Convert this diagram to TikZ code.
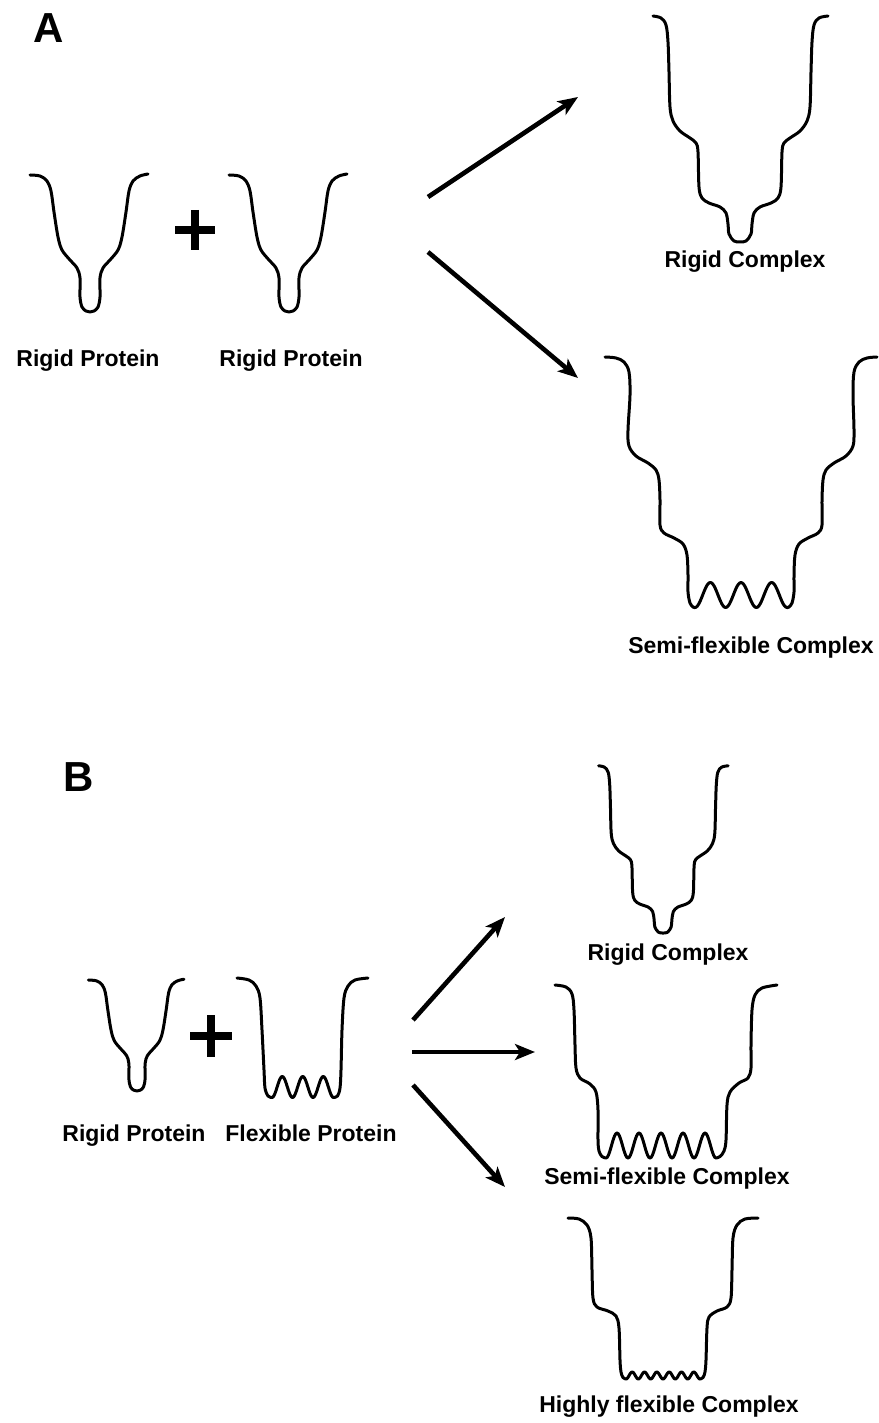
\documentclass[tikz,border=0pt]{standalone}
\usepackage{fontspec}
\setmainfont{Liberation Sans}
\usetikzlibrary{arrows.meta}
\newcommand\rigidprotein{\draw[prot] plot[smooth,tension=0.55] coordinates {(-60,-137) (-50,-136) (-43,-131) (-39,-121) (-36,-100) (-32,-75) (-28,-62) (-20,-52) (-13,-44) (-10,-34) (-10,-15) (-8,-5) (-4,-1) (0,0) (4,-1) (8,-5) (10,-15) (10,-34) (13,-44) (20,-52) (28,-62) (32,-75) (36,-100) (39,-121) (43,-131) (50,-136) (58,-138)};}
\newcommand\rigidcomplex{\draw[prot] plot[smooth,tension=0.55] coordinates {(-87,-226) (-79,-224) (-74,-217) (-72,-200) (-71,-170) (-70,-135) (-67,-121) (-60,-111) (-50,-104) (-44,-99) (-42,-90) (-41,-55) (-38,-44) (-31,-39) (-20,-35) (-14,-29) (-12,-18) (-11,-8) (-6,-1) (0,0) (6,-1) (11,-8) (12,-18) (14,-29) (20,-35) (31,-39) (38,-44) (41,-55) (42,-90) (44,-99) (50,-104) (60,-111) (67,-121) (70,-135) (71,-170) (72,-200) (74,-217) (79,-224) (88,-226)};}
\begin{document}
\begin{tikzpicture}[x=0.5pt,y=-0.5pt,
  prot/.style={line width=1.5pt,line cap=round,line join=round},
  arr/.style={line width=2.3pt,-{Stealth[length=10pt,width=8pt,inset=2.5pt]}},
  lbl/.style={font=\bfseries\fontsize{11.5}{13}\selectfont,anchor=base,inner sep=0pt},
  panel/.style={font=\bfseries\fontsize{21}{24}\selectfont,inner sep=0pt},
  plussign/.style={line width=4pt}]
\useasboundingbox (0,0) rectangle (878,1423);

\node[panel] (pA) at (49,28) {A};
\node[panel] (pB) at (79,777) {B};

% ---------- Panel A ----------
\begin{scope}[shift={(90,312)}]\rigidprotein\end{scope}
\begin{scope}[shift={(289,312)}]\rigidprotein\end{scope}
\draw[plussign] (175,230) -- (215,230) (195,210) -- (195,250);
\node[lbl] (rpA1) at (88,366) {Rigid Protein};
\node[lbl] (rpA2) at (291,366) {Rigid Protein};

\coordinate (aus) at (428,197);
\coordinate (aue) at (578,97);
\coordinate (ads) at (428,252);
\coordinate (ade) at (578,378);
\draw[arr] (aus) -- (aue);
\draw[arr] (ads) -- (ade);

\begin{scope}[shift={(740,242)}]\rigidcomplex\end{scope}
\node[lbl] (rcA) at (745,267) {Rigid Complex};

\draw[prot] plot[smooth,tension=0.55] coordinates {(605,357) (616,358) (624,362) (629,372) (630,395) (628,430) (629,446) (636,456) (648,463) (656,470) (659,480) (660,500) (660,525) (664,533) (674,538) (683,544) (687,555) (688,575) (688,592) (690,603) (693,607) (695,607.5)}
  -- plot[domain=695:787,samples=73,smooth] (\x,{595+12.5*cos(((\x-695)/30.6667)*360)})
  -- plot[smooth,tension=0.55] coordinates {(787,607.5) (789,607) (792,603) (794,592) (794,575) (795,555) (799,544) (808,538) (818,533) (822,525) (822,500) (823,480) (826,470) (834,463) (846,456) (853,446) (854,430) (853,395) (854,372) (859,362) (867,358) (877,357)};
\node[lbl] (sfA) at (751,653) {Semi-flexible Complex};

% ---------- Panel B ----------
\begin{scope}[shift={(137,1091)},scale=0.81]\rigidprotein\end{scope}
\draw[plussign] (190,1036) -- (232,1036) (211,1015) -- (211,1057);
\draw[prot] plot[smooth,tension=0.55] coordinates {(237,978) (249,980) (256,986) (260,998) (262,1030) (264,1070) (265,1088) (268,1096) (272,1097.5)}
  -- plot[domain=272:333.5,samples=61,smooth] (\x,{1087+10.5*cos(((\x-272)/20.5)*360)})
  -- plot[smooth,tension=0.55] coordinates {(333.5,1097.5) (337.5,1096) (340,1088) (341,1070) (342,1030) (344,998) (348,986) (355,980) (368,978)};
\node[lbl] (rpB) at (134,1141) {Rigid Protein};
\node[lbl] (fpB) at (311,1141) {Flexible Protein};

\coordinate (bus) at (413,1020);
\coordinate (bue) at (505,917);
\coordinate (bms) at (412,1052);
\coordinate (bme) at (535,1052);
\coordinate (bds) at (413,1085);
\coordinate (bde) at (505,1187);
\draw[arr] (bus) -- (bue);
\draw[arr] (bms) -- (bme);
\draw[arr] (bds) -- (bde);

\begin{scope}[shift={(663,933)},scale=0.74]\rigidcomplex\end{scope}
\node[lbl] (rcB) at (668,960) {Rigid Complex};

\draw[prot] plot[smooth,tension=0.55] coordinates {(555,985) (566,987) (572,994) (574,1010) (575,1045) (576,1068) (580,1078) (590,1084) (596,1092) (598,1110) (598,1140) (599,1151) (602,1156.5) (606,1158)}
  -- plot[domain=606:716,samples=91,smooth] (\x,{1145.5+12.5*cos(((\x-606)/22)*360)})
  -- plot[smooth,tension=0.55] coordinates {(716,1158) (720,1156.5) (724,1151) (726,1140) (727,1105) (730,1092) (739,1083) (748,1078) (751,1068) (751,1045) (752,1010) (755,995) (762,988) (777,985)};
\node[lbl] (sfB) at (667,1184) {Semi-flexible Complex};

\draw[prot] plot[smooth,tension=0.55] coordinates {(568,1218) (579,1219) (587,1225) (591,1238) (592,1270) (593,1298) (597,1307) (608,1311) (616,1316) (619,1328) (620,1360) (621,1372) (623,1377.5) (626,1379)}
  -- plot[domain=626:700,samples=97,smooth] (\x,{1375.5+3.5*cos(((\x-626)/12.3333)*360)})
  -- plot[smooth,tension=0.55] coordinates {(700,1379) (703,1377.5) (705,1372) (706,1360) (707,1328) (709,1317) (717,1311) (727,1307) (731,1298) (732,1270) (733,1238) (737,1225) (745,1219) (758,1218)};
\node[lbl] (hfB) at (669,1412) {Highly flexible Complex};
\end{tikzpicture}
\end{document}
